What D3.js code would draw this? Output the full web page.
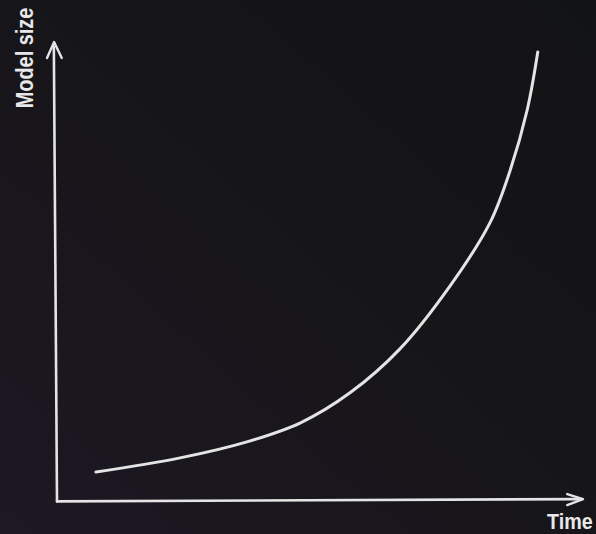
<!DOCTYPE html>
<html>
<head>
<meta charset="utf-8">
<script src="https://cdn.jsdelivr.net/npm/d3@7/dist/d3.min.js"></script>
<style>
html,body{margin:0;padding:0;background:#141416;overflow:hidden;}
svg{display:block;}
</style>
</head>
<body>
<svg id="chart" width="596" height="534"></svg>
<script>
// Data (domain units, 0..100 on each axis)
const timeValues = [7.4, 23.4, 36.1, 46.2, 55.7, 65.2, 74.7, 82.3, 86.1, 89.4, 91.4];
const sizeValues = [6.1, 9.2, 12.7, 16.8, 23.4, 33.0, 46.7, 60.5, 71.8, 85.2, 97.8];
const xLabel = "Time";
const yLabel = "Model size";

const W = 596, H = 534;
const svg = d3.select("#chart");

const x = d3.scaleLinear().domain([0, 100]).range([57, 583]);
const y = d3.scaleLinear().domain([0, 100]).range([500, 42]);

// background gradient
const defs = svg.append("defs");
const g = defs.append("linearGradient").attr("id", "bg")
  .attr("x1", "0%").attr("y1", "100%").attr("x2", "100%").attr("y2", "0%");
g.append("stop").attr("offset", "0%").attr("stop-color", "#1d1823");
g.append("stop").attr("offset", "55%").attr("stop-color", "#161518");
g.append("stop").attr("offset", "100%").attr("stop-color", "#121315");
svg.append("rect").attr("width", W).attr("height", H).attr("fill", "url(#bg)");

const stroke = "#e4e4e4";

// y axis (hand-drawn style, slight slant)
svg.append("path")
  .attr("d", d3.line()([[x(0), y(-0.3)], [x(-0.6), y(99)]]))
  .attr("stroke", stroke).attr("stroke-width", 2.6).attr("fill", "none").attr("stroke-linecap", "round");
svg.append("path")
  .attr("d", d3.line()([[x(-1.9), y(96.5)], [x(-0.55), y(100)], [x(0.9), y(96.5)]]))
  .attr("stroke", stroke).attr("stroke-width", 2.4).attr("fill", "none")
  .attr("stroke-linecap", "round").attr("stroke-linejoin", "round");

// x axis
svg.append("path")
  .attr("d", d3.line()([[x(0), y(-0.3)], [x(99.7), y(0.2)]]))
  .attr("stroke", stroke).attr("stroke-width", 2.6).attr("fill", "none").attr("stroke-linecap", "round");
svg.append("path")
  .attr("d", d3.line()([[x(97), y(1.3)], [x(100), y(0.2)], [x(97), y(-1.1)]]))
  .attr("stroke", stroke).attr("stroke-width", 2.4).attr("fill", "none")
  .attr("stroke-linecap", "round").attr("stroke-linejoin", "round");

// curve
const pts = timeValues.map((t, i) => [t, sizeValues[i]]);
svg.append("path")
  .datum(pts)
  .attr("d", d3.line().x(d => x(d[0])).y(d => y(d[1])).curve(d3.curveCatmullRom.alpha(0.5)))
  .attr("stroke", stroke).attr("stroke-width", 3).attr("fill", "none").attr("stroke-linecap", "round");

// labels
svg.append("text")
  .attr("transform", "translate(33,58) rotate(-90) scale(0.83,1)")
  .attr("text-anchor", "middle")
  .attr("font-family", "Liberation Sans, Arial, sans-serif")
  .attr("font-weight", "bold")
  .attr("font-size", 24)
  .attr("fill", "#e8e8e8")
  .text(yLabel);

svg.append("text")
  .attr("transform", "translate(547,529) scale(0.92,1)")
  .attr("font-family", "Liberation Sans, Arial, sans-serif")
  .attr("font-weight", "bold")
  .attr("font-size", 21.5)
  .attr("fill", "#e8e8e8")
  .text(xLabel);
</script>
</body>
</html>
